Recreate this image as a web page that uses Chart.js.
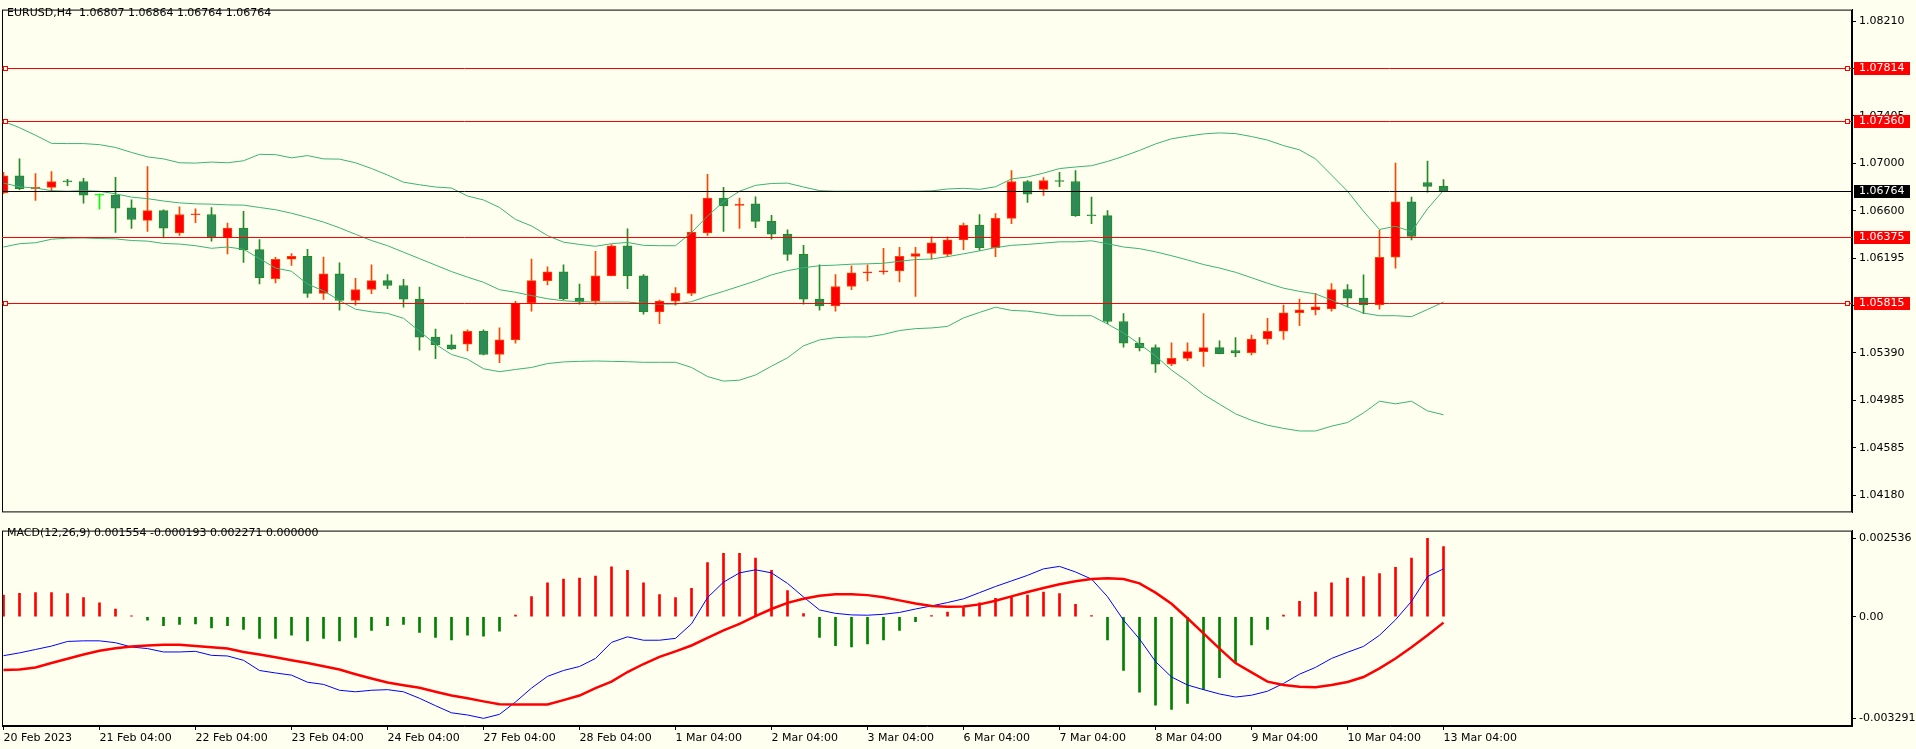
<!DOCTYPE html>
<html>
<head>
<meta charset="utf-8">
<script src="https://cdn.jsdelivr.net/npm/chart.js@4.4.0/dist/chart.umd.min.js"></script>
<style>
  html, body { margin: 0; padding: 0; background: #FFFFF0; }
  #wrap { position: relative; width: 1916px; height: 749px; overflow: hidden; }
  canvas { position: absolute; left: 0; }
  #price-chart { top: 0; }
  #macd-chart { top: 521px; }
</style>
</head>
<body>
<div id="wrap">
  <canvas id="price-chart" width="1916" height="522"></canvas>
  <canvas id="macd-chart" width="1916" height="228"></canvas>
</div>
<script>
// EURUSD H4, one entry per bar (bar 0 = 20 Feb 04:00)
const dayLabels = [
  "20 Feb 2023", "21 Feb 04:00", "22 Feb 04:00", "23 Feb 04:00", "24 Feb 04:00",
  "27 Feb 04:00", "28 Feb 04:00", "1 Mar 04:00", "2 Mar 04:00", "3 Mar 04:00",
  "6 Mar 04:00", "7 Mar 04:00", "8 Mar 04:00", "9 Mar 04:00", "10 Mar 04:00", "13 Mar 04:00"
];
const dayIndex = [0, 6, 12, 18, 24, 30, 36, 42, 48, 54, 60, 66, 72, 78, 84, 90];

const open = [
  1.06751, 1.06897, 1.06787, 1.06798, 1.06850, 1.06848, 1.06732, 1.06732, 1.06624, 1.06517,
  1.06600, 1.06410, 1.06565, 1.06567, 1.06368, 1.06451, 1.06269, 1.06021, 1.06187, 1.06211,
  1.05897, 1.06063, 1.05837, 1.05930, 1.06005, 1.05964, 1.05848, 1.05525, 1.05460, 1.05465,
  1.05575, 1.05377, 1.05501, 1.05815, 1.06005, 1.06079, 1.05856, 1.05831, 1.06046, 1.06302,
  1.06046, 1.05740, 1.05831, 1.05897, 1.06410, 1.06707, 1.06644, 1.06658, 1.06509, 1.06401,
  1.06228, 1.05848, 1.05790, 1.05955, 1.06071, 1.06079, 1.06088, 1.06211, 1.06236, 1.06228,
  1.06352, 1.06476, 1.06286, 1.06534, 1.06848, 1.06781, 1.06853, 1.06848, 1.06561, 1.06558,
  1.05658, 1.05473, 1.05435, 1.05294, 1.05344, 1.05402, 1.05435, 1.05410, 1.05393, 1.05509,
  1.05575, 1.05732, 1.05757, 1.05765, 1.05930, 1.05856, 1.05798, 1.06204, 1.06674, 1.06839,
  1.06807
];
const high = [
  1.06925, 1.07040, 1.06916, 1.06933, 1.06867, 1.06875, 1.06740, 1.06883, 1.06693, 1.06974,
  1.06608, 1.06633, 1.06616, 1.06627, 1.06495, 1.06594, 1.06355, 1.06203, 1.06236, 1.06272,
  1.06206, 1.06156, 1.06024, 1.06140, 1.06057, 1.06016, 1.05950, 1.05594, 1.05545, 1.05586,
  1.05586, 1.05603, 1.05829, 1.06189, 1.06123, 1.06140, 1.05975, 1.06255, 1.06311, 1.06445,
  1.06057, 1.05840, 1.05947, 1.06567, 1.06908, 1.06798, 1.06707, 1.06718, 1.06561, 1.06437,
  1.06305, 1.06140, 1.06057, 1.06132, 1.06140, 1.06280, 1.06289, 1.06289, 1.06377, 1.06377,
  1.06495, 1.06567, 1.06575, 1.06941, 1.06856, 1.06881, 1.06925, 1.06941, 1.06715, 1.06600,
  1.05724, 1.05520, 1.05460, 1.05476, 1.05476, 1.05724, 1.05493, 1.05520, 1.05542, 1.05685,
  1.05798, 1.05848, 1.05897, 1.05980, 1.05972, 1.06054, 1.06434, 1.07005, 1.06715, 1.07021,
  1.06864
];
const low = [
  1.06745, 1.06779, 1.06688, 1.06770, 1.06812, 1.06663, 1.06613, 1.06415, 1.06448, 1.06423,
  1.06368, 1.06390, 1.06498, 1.06341, 1.06233, 1.06159, 1.05977, 1.05986, 1.06134, 1.05862,
  1.05845, 1.05754, 1.05796, 1.05895, 1.05936, 1.05779, 1.05415, 1.05341, 1.05421, 1.05407,
  1.05374, 1.05308, 1.05473, 1.05746, 1.05969, 1.05842, 1.05804, 1.05804, 1.06046, 1.05936,
  1.05721, 1.05639, 1.05796, 1.05878, 1.06390, 1.06423, 1.06448, 1.06456, 1.06357, 1.06176,
  1.05804, 1.05754, 1.05746, 1.05928, 1.06002, 1.06060, 1.05994, 1.05870, 1.06187, 1.06209,
  1.06269, 1.06261, 1.06209, 1.06490, 1.06671, 1.06729, 1.06804, 1.06550, 1.06490, 1.05639,
  1.05440, 1.05407, 1.05225, 1.05283, 1.05325, 1.05275, 1.05382, 1.05358, 1.05374, 1.05465,
  1.05506, 1.05622, 1.05713, 1.05746, 1.05782, 1.05724, 1.05762, 1.06110, 1.06352, 1.06757,
  1.06764
];
const close = [
  1.06897, 1.06787, 1.06798, 1.06848, 1.06845, 1.06732, 1.06732, 1.06622, 1.06525, 1.06600,
  1.06451, 1.06567, 1.06568, 1.06368, 1.06451, 1.06269, 1.06030, 1.06187, 1.06211, 1.05897,
  1.06063, 1.05837, 1.05930, 1.06005, 1.05964, 1.05848, 1.05525, 1.05460, 1.05424, 1.05575,
  1.05377, 1.05501, 1.05815, 1.06005, 1.06079, 1.05850, 1.05823, 1.06046, 1.06302, 1.06046,
  1.05740, 1.05831, 1.05897, 1.06418, 1.06707, 1.06641, 1.06655, 1.06509, 1.06401, 1.06228,
  1.05848, 1.05790, 1.05955, 1.06071, 1.06079, 1.06088, 1.06211, 1.06236, 1.06327, 1.06352,
  1.06476, 1.06286, 1.06534, 1.06848, 1.06740, 1.06856, 1.06848, 1.06558, 1.06556, 1.05658,
  1.05473, 1.05435, 1.05294, 1.05344, 1.05402, 1.05435, 1.05385, 1.05391, 1.05509, 1.05575,
  1.05732, 1.05757, 1.05782, 1.05930, 1.05856, 1.05798, 1.06204, 1.06674, 1.06382, 1.06806,
  1.06764
];

// Bollinger bands
const bbUpper = [
  1.07360, 1.07305, 1.07241, 1.07172, 1.07170, 1.07170, 1.07161, 1.07137, 1.07095, 1.07057,
  1.07040, 1.07007, 1.07004, 1.07013, 1.07007, 1.07024, 1.07079, 1.07076, 1.07049, 1.07068,
  1.07040, 1.07038, 1.07007, 1.06958, 1.06903, 1.06842, 1.06820, 1.06801, 1.06792, 1.06724,
  1.06691, 1.06627, 1.06525, 1.06470, 1.06388, 1.06332, 1.06313, 1.06297, 1.06319, 1.06330,
  1.06305, 1.06302, 1.06302, 1.06415, 1.06553, 1.06677, 1.06765, 1.06815, 1.06831, 1.06834,
  1.06801, 1.06770, 1.06765, 1.06765, 1.06765, 1.06765, 1.06765, 1.06765, 1.06768, 1.06784,
  1.06790, 1.06781, 1.06803, 1.06870, 1.06886, 1.06919, 1.06958, 1.06971, 1.06982, 1.07018,
  1.07062, 1.07112, 1.07167, 1.07211, 1.07233, 1.07252, 1.07261, 1.07255, 1.07230, 1.07200,
  1.07153, 1.07117, 1.07040, 1.06903, 1.06765, 1.06594, 1.06440, 1.06467, 1.06421, 1.06616,
  1.06773
];
const bbMiddle = [
  1.06834, 1.06803, 1.06792, 1.06770, 1.06765, 1.06770, 1.06765, 1.06743, 1.06715, 1.06702,
  1.06682, 1.06666, 1.06658, 1.06655, 1.06649, 1.06647, 1.06627, 1.06608, 1.06578, 1.06542,
  1.06503, 1.06454, 1.06399, 1.06346, 1.06302, 1.06247, 1.06192, 1.06137, 1.06082, 1.06035,
  1.05991, 1.05928, 1.05906, 1.05878, 1.05851, 1.05834, 1.05826, 1.05823, 1.05823, 1.05823,
  1.05812, 1.05806, 1.05806, 1.05826, 1.05873, 1.05914, 1.05958, 1.06002, 1.06054, 1.06090,
  1.06115, 1.06132, 1.06137, 1.06145, 1.06148, 1.06153, 1.06170, 1.06184, 1.06189, 1.06209,
  1.06233, 1.06258, 1.06286, 1.06305, 1.06313, 1.06324, 1.06335, 1.06335, 1.06344, 1.06319,
  1.06291, 1.06277, 1.06250, 1.06217, 1.06181, 1.06142, 1.06112, 1.06076, 1.06030, 1.05983,
  1.05941, 1.05914, 1.05892, 1.05840, 1.05782, 1.05729, 1.05707, 1.05707, 1.05699, 1.05760,
  1.05823
];
const bbLower = [
  1.06291, 1.06319, 1.06327, 1.06357, 1.06366, 1.06368, 1.06363, 1.06360, 1.06346, 1.06341,
  1.06321, 1.06316, 1.06302, 1.06280, 1.06291, 1.06272, 1.06192, 1.06112, 1.06085, 1.05975,
  1.05919, 1.05836, 1.05762, 1.05740, 1.05727, 1.05685, 1.05575, 1.05465, 1.05377, 1.05338,
  1.05256, 1.05231, 1.05250, 1.05267, 1.05300, 1.05314, 1.05319, 1.05322, 1.05319, 1.05316,
  1.05311, 1.05311, 1.05311, 1.05267, 1.05190, 1.05151, 1.05159, 1.05203, 1.05278, 1.05349,
  1.05451, 1.05501, 1.05520, 1.05526, 1.05526, 1.05548, 1.05581, 1.05597, 1.05603, 1.05616,
  1.05688, 1.05735, 1.05779, 1.05752, 1.05746, 1.05727, 1.05707, 1.05707, 1.05707, 1.05636,
  1.05561, 1.05465, 1.05366, 1.05245, 1.05148, 1.05038, 1.04955, 1.04873, 1.04818, 1.04776,
  1.04749, 1.04727, 1.04727, 1.04768, 1.04799, 1.04881, 1.04980, 1.04958, 1.04980, 1.04898,
  1.04865
];

// MACD(12,26,9)
const macdHist = [
  0.00070, 0.00076, 0.00078, 0.00078, 0.00075, 0.00062, 0.00045, 0.00025, 0.00003, -0.00011,
  -0.00029, -0.00025, -0.00023, -0.00036, -0.00029, -0.00041, -0.00070, -0.00070, -0.00060, -0.00078,
  -0.00070, -0.00078, -0.00067, -0.00044, -0.00029, -0.00025, -0.00051, -0.00067, -0.00075, -0.00060,
  -0.00063, -0.00047, 0.00005, 0.00065, 0.00110, 0.00122, 0.00125, 0.00132, 0.00162, 0.00150,
  0.00110, 0.00072, 0.00062, 0.00092, 0.00175, 0.00205, 0.00205, 0.00190, 0.00150, 0.00085,
  0.00010, -0.00067, -0.00094, -0.00098, -0.00088, -0.00075, -0.00044, -0.00016, 0.00004, 0.00015,
  0.00030, 0.00045, 0.00060, 0.00065, 0.00070, 0.00080, 0.00075, 0.00040, 0.00004, -0.00075,
  -0.00174, -0.00244, -0.00286, -0.00300, -0.00281, -0.00236, -0.00197, -0.00148, -0.00091, -0.00041,
  0.00005, 0.00050, 0.00080, 0.00110, 0.00125, 0.00130, 0.00140, 0.00160, 0.00190, 0.00254,
  0.00227
];
const macdMain = [
  -0.00126, -0.00117, -0.00106, -0.00095, -0.00080, -0.00078, -0.00078, -0.00084, -0.00098, -0.00103,
  -0.00114, -0.00114, -0.00112, -0.00125, -0.00127, -0.00141, -0.00174, -0.00182, -0.00189, -0.00212,
  -0.00219, -0.00238, -0.00243, -0.00238, -0.00236, -0.00243, -0.00264, -0.00288, -0.00311, -0.00318,
  -0.00329, -0.00316, -0.00276, -0.00231, -0.00193, -0.00174, -0.00161, -0.00135, -0.00083, -0.00065,
  -0.00076, -0.00076, -0.00070, -0.00023, 0.00062, 0.00112, 0.00142, 0.00152, 0.00142, 0.00108,
  0.00064, 0.00022, 0.00011, 0.00006, 0.00005, 0.00008, 0.00014, 0.00025, 0.00035, 0.00046,
  0.00058, 0.00078, 0.00098, 0.00116, 0.00134, 0.00155, 0.00163, 0.00145, 0.00122, 0.00065,
  -0.00011, -0.00072, -0.00145, -0.00195, -0.00221, -0.00236, -0.00250, -0.00260, -0.00254, -0.00241,
  -0.00216, -0.00186, -0.00164, -0.00135, -0.00115, -0.00096, -0.00060, -0.00010, 0.00050, 0.00130,
  0.00155
];
const macdSignal = [
  -0.00172, -0.00171, -0.00164, -0.00150, -0.00136, -0.00122, -0.00110, -0.00102, -0.00096, -0.00093,
  -0.00091, -0.00091, -0.00095, -0.00099, -0.00103, -0.00114, -0.00122, -0.00131, -0.00141, -0.00150,
  -0.00160, -0.00171, -0.00186, -0.00200, -0.00213, -0.00222, -0.00230, -0.00243, -0.00255, -0.00264,
  -0.00274, -0.00283, -0.00284, -0.00284, -0.00284, -0.00270, -0.00255, -0.00231, -0.00210, -0.00179,
  -0.00153, -0.00130, -0.00112, -0.00093, -0.00068, -0.00044, -0.00023, 0.00002, 0.00025, 0.00045,
  0.00058, 0.00068, 0.00073, 0.00073, 0.00070, 0.00063, 0.00053, 0.00043, 0.00035, 0.00032,
  0.00033, 0.00040, 0.00052, 0.00066, 0.00080, 0.00093, 0.00105, 0.00115, 0.00122, 0.00125,
  0.00122, 0.00108, 0.00078, 0.00042, -0.00005, -0.00054, -0.00103, -0.00150, -0.00180, -0.00210,
  -0.00221, -0.00227, -0.00228, -0.00221, -0.00211, -0.00195, -0.00167, -0.00135, -0.00099, -0.00060,
  -0.00019
];

const priceTicks = [1.08210, 1.07810, 1.07405, 1.07000, 1.06600, 1.06195, 1.05790, 1.05390, 1.04985, 1.04585, 1.04180];
const macdTicks = [0.002536, 0, -0.003291];
const macdTickText = ["0.002536", "0.00", "-0.003291"];
const redLevels = [1.07814, 1.07360, 1.06375, 1.05815];
const markedLevels = [1.07814, 1.07360, 1.05815];
const bidLevel = 1.06764;
const headerText = "EURUSD,H4  1.06807 1.06864 1.06764 1.06764";
const macdHeaderText = "MACD(12,26,9) 0.001554 -0.000193 0.002271 0.000000";

const FONT = "DejaVu Sans";
const BG = "#FFFFF0";
const X_MIN = -0.094;
const X_MAX = 115.53;

const candleState = (i) => close[i] > open[i] ? "up" : (close[i] < open[i] ? "down" : "flat");
const bodyFill = { up: "#FF0000", down: "#2E8B57", flat: "#00FF00" };
const bodyEdge = { up: "#FF4500", down: "#228B22", flat: "#00FF00" };
const wickColor = { up: "#FF4500", down: "#228B22", flat: "#00FF00" };

const frame = {
  id: "frame",
  afterDatasetsDraw(chart) {
    const { ctx, chartArea: a } = chart;
    ctx.save();
    ctx.strokeStyle = "#000";
    ctx.lineWidth = 1;
    ctx.strokeRect(a.left + 0.5, a.top + 0.5, a.right - a.left - 1, a.bottom - a.top - 1);
    ctx.restore();
  },
};

const priceLevels = {
  id: "priceLevels",
  afterDatasetsDraw(chart) {
    const { ctx, chartArea: a } = chart;
    const y = chart.scales.y;
    ctx.save();
    ctx.lineWidth = 1;
    ctx.strokeStyle = "#FF0000";
    redLevels.forEach((v) => {
      const py = Math.round(y.getPixelForValue(v)) + 0.5;
      ctx.beginPath();
      ctx.moveTo(a.left, py);
      ctx.lineTo(a.right, py);
      ctx.stroke();
    });
    ctx.strokeStyle = "#000";
    const by = Math.round(y.getPixelForValue(bidLevel)) + 0.5;
    ctx.beginPath();
    ctx.moveTo(a.left, by);
    ctx.lineTo(a.right, by);
    ctx.stroke();
    ctx.strokeStyle = "#FF0000";
    ctx.fillStyle = BG;
    markedLevels.forEach((v) => {
      const py = Math.round(y.getPixelForValue(v));
      [a.left + 1, a.right - 7].forEach((px) => {
        ctx.fillRect(px, py - 2, 5, 5);
        ctx.strokeRect(px + 0.5, py - 1.5, 4, 4);
      });
    });
    ctx.restore();
  },
  afterDraw(chart) {
    const { ctx, chartArea: a } = chart;
    const y = chart.scales.y;
    ctx.save();
    ctx.font = `11px "${FONT}"`;
    ctx.textBaseline = "middle";
    const tag = (v, color) => {
      const py = Math.round(y.getPixelForValue(v));
      ctx.fillStyle = color;
      ctx.fillRect(a.right + 2, py - 6, 56, 13);
      ctx.fillStyle = "#FFFFFF";
      ctx.fillText(v.toFixed(5), a.right + 7, py + 0.5);
    };
    redLevels.forEach((v) => tag(v, "#FF0000"));
    tag(bidLevel, "#000000");
    ctx.fillStyle = "#000";
    ctx.fillText(headerText, 7, 13);
    ctx.restore();
  },
};

const macdHeader = {
  id: "macdHeader",
  afterDraw(chart) {
    const { ctx } = chart;
    ctx.save();
    ctx.font = `11px "${FONT}"`;
    ctx.textBaseline = "middle";
    ctx.fillStyle = "#000";
    ctx.fillText(macdHeaderText, 7, 12);
    ctx.restore();
  },
};

const renderPriceChart = () => {
  const idx = open.map((v, i) => i);
  const states = idx.map(candleState);

  const bandSet = (values) => ({
    type: "line",
    data: values.map((v, i) => ({ x: i, y: v })),
    borderColor: "#3CB371",
    borderWidth: 1,
    pointRadius: 0,
    tension: 0,
    order: 1,
  });

  new Chart(document.getElementById("price-chart"), {
    type: "bar",
    data: {
      datasets: [
        bandSet(bbUpper),
        bandSet(bbMiddle),
        bandSet(bbLower),
        {
          data: idx.map((i) => ({ x: i, y: [open[i], close[i]] })),
          backgroundColor: states.map((s) => bodyFill[s]),
          borderColor: states.map((s) => bodyEdge[s]),
          borderWidth: 1,
          borderSkipped: false,
          barThickness: 9,
          minBarLength: 1,
          grouped: false,
          order: 2,
        },
        {
          data: idx.map((i) => ({ x: i, y: [low[i], high[i]] })),
          backgroundColor: states.map((s) => wickColor[s]),
          barThickness: 1,
          grouped: false,
          order: 3,
        },
      ],
    },
    options: {
      responsive: false,
      animation: false,
      devicePixelRatio: 1,
      layout: { padding: { left: 2, top: 2, bottom: 2, right: 0 } },
      plugins: { legend: { display: false }, tooltip: { enabled: false } },
      scales: {
        x: { type: "linear", min: X_MIN, max: X_MAX, offset: false, grid: { offset: false }, display: false },
        y: {
          position: "right",
          min: 1.04035,
          max: 1.08309,
          afterBuildTicks: (s) => { s.ticks = priceTicks.map((v) => ({ value: v })); },
          afterFit: (s) => { s.width = 64; },
          ticks: {
            color: "#000",
            font: { family: FONT, size: 11 },
            padding: 3,
            callback: (v) => v.toFixed(5),
          },
          grid: { drawOnChartArea: false, drawTicks: true, tickLength: 4, color: "#000" },
          border: { display: true, color: "#000" },
        },
      },
    },
    plugins: [frame, priceLevels],
  });
};

const renderMacdChart = () => {
  const idx = macdHist.map((v, i) => i);

  new Chart(document.getElementById("macd-chart"), {
    type: "bar",
    data: {
      datasets: [
        {
          type: "line",
          data: macdSignal.map((v, i) => ({ x: i, y: v })),
          borderColor: "#FF0000",
          borderWidth: 2.5,
          pointRadius: 0,
          tension: 0,
          order: 1,
        },
        {
          type: "line",
          data: macdMain.map((v, i) => ({ x: i, y: v })),
          borderColor: "#0000FF",
          borderWidth: 1,
          pointRadius: 0,
          tension: 0,
          order: 2,
        },
        {
          data: idx.map((i) => ({ x: i, y: macdHist[i] })),
          backgroundColor: macdHist.map((v) => v >= 0 ? "#FF0000" : "#008000"),
          barThickness: 2,
          grouped: false,
          order: 3,
        },
      ],
    },
    options: {
      responsive: false,
      animation: false,
      devicePixelRatio: 1,
      layout: { padding: { left: 2, top: 2, bottom: 0, right: 0 } },
      plugins: { legend: { display: false }, tooltip: { enabled: false } },
      scales: {
        x: {
          type: "linear",
          min: X_MIN,
          max: X_MAX,
          offset: false,
          afterBuildTicks: (s) => { s.ticks = dayIndex.map((v) => ({ value: v })); },
          afterFit: (s) => { s.height = 23; },
          ticks: {
            color: "#000",
            font: { family: FONT, size: 11 },
            padding: 2,
            align: "start",
            maxRotation: 0,
            autoSkip: false,
            callback: (v) => dayLabels[dayIndex.indexOf(v)] ?? "",
          },
          grid: { offset: false, drawOnChartArea: false, drawTicks: true, tickLength: 4, color: "#000" },
          border: { display: true, color: "#000" },
        },
        y: {
          position: "right",
          min: -0.003537,
          max: 0.002789,
          afterBuildTicks: (s) => { s.ticks = macdTicks.map((v) => ({ value: v })); },
          afterFit: (s) => { s.width = 64; },
          ticks: {
            color: "#000",
            font: { family: FONT, size: 11 },
            padding: 3,
            callback: (v) => macdTickText[macdTicks.indexOf(v)] ?? "",
          },
          grid: { drawOnChartArea: false, drawTicks: true, tickLength: 4, color: "#000" },
          border: { display: true, color: "#000" },
        },
      },
    },
    plugins: [frame, macdHeader],
  });
};

document.addEventListener("DOMContentLoaded", () => {
  renderPriceChart();
  renderMacdChart();
});
</script>
</body>
</html>
